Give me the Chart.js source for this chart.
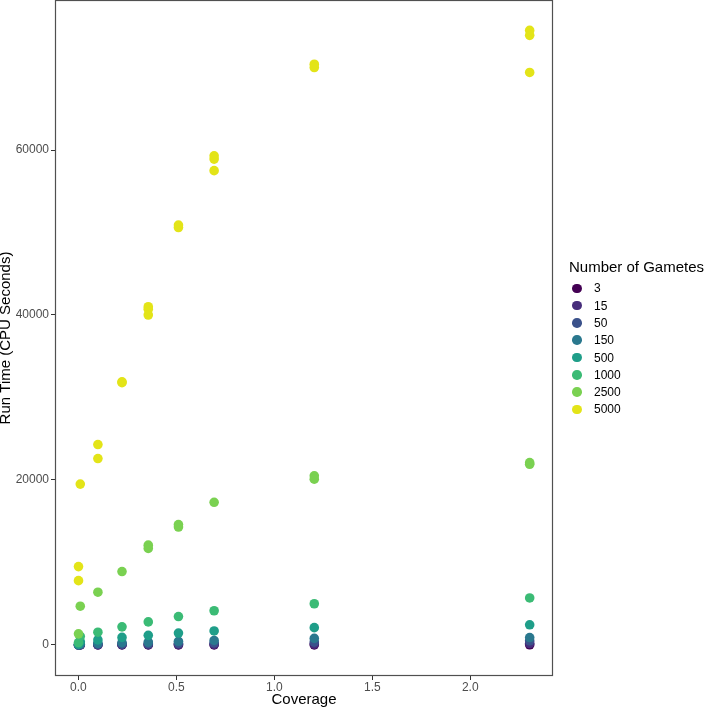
<!DOCTYPE html>
<html>
<head>
<meta charset="utf-8">
<script src="https://cdn.jsdelivr.net/npm/chart.js@4"></script>
<style>
html, body { margin: 0; padding: 0; background: #fff; }
#wrap { position: relative; width: 704px; height: 709px; font-family: "Liberation Sans", Arial, sans-serif; color: #000; }
#legend-title { position: absolute; left: 569px; top: 258px; font-size: 15px; line-height: 18px; white-space: nowrap; }
.item { position: absolute; left: 572px; height: 18px; display: flex; align-items: center; font-size: 12px; }
.dot { width: 9.6px; height: 9.6px; border-radius: 50%; margin-right: 12.4px; }
</style>
</head>
<body>
<div id="wrap">
  <canvas id="chart" width="704" height="709"></canvas>
  <div id="legend-title">Number of Gametes</div>
  <div id="legend"></div>
</div>
<script>
const gametes = ['3', '15', '50', '150', '500', '1000', '2500', '5000'];
const colours = ['#440154', '#472D7B', '#3B528B', '#2A788E', '#1F9E89', '#3BBB75', '#7AD151', '#E3E418'];

const coverage = [0.001, 0.01, 0.1, 0.223, 0.357, 0.511, 0.693, 1.204, 2.303];
const xTicks = [0, 0.5, 1, 1.5, 2];
const yTicks = [0, 20000, 40000, 60000];

// run times (CPU seconds), one list of replicates per coverage level
const run3 = [[1], [3], [5], [7], [9], [12], [15], [20], [30]];
const run15 = [[5], [15], [25], [35], [45], [60], [75], [110], [180]];
const run50 = [[10], [50], [80], [110], [150], [200], [250], [350], [500]];
const run150 = [[20], [120], [200], [280], [350], [450], [550], [800], [900]];
const run500 = [[100], [400], [620], [920], [1170], [1450], [1700], [2100], [2450]];
const run1000 = [[300], [1050], [1550], [2200], [2800], [3450], [4150], [5000], [5700]];
const run2500 = [[1350], [4700], [6400], [8900], [12100, 11700], [14600, 14300], [17300], [20500, 20100], [22100, 21900]];
const run5000 = [[9500, 7800], [19500], [24300, 22600], [31900, 31800], [41000, 40700, 40000], [50900, 50600], [59300, 58900, 57500], [70400, 70000], [74500, 73900, 69400]];

const runs = [run3, run15, run50, run150, run500, run1000, run2500, run5000];

const datasets = runs.map((r, g) => ({
  label: gametes[g],
  data: coverage.flatMap((c, i) => r[i].map(v => ({x: c, y: v}))),
  backgroundColor: colours[g],
  borderWidth: 0,
  pointRadius: 4.8,
  pointHoverRadius: 4.8,
  order: gametes.length - g
}));

const panelBorder = {
  id: 'panelBorder',
  afterDraw(chart) {
    const {ctx, chartArea: a} = chart;
    ctx.save();
    ctx.strokeStyle = '#505050';
    ctx.lineWidth = 1.2;
    ctx.strokeRect(a.left + 0.5, a.top + 0.5, a.right - a.left - 1, a.bottom - a.top - 1);
    ctx.restore();
  }
};

const font = {family: '"Liberation Sans", Arial, sans-serif'};

new Chart(document.getElementById('chart').getContext('2d'), {
  type: 'scatter',
  data: {datasets},
  options: {
    responsive: false,
    animation: false,
    layout: {autoPadding: false, padding: {left: 0, right: 151, top: 0, bottom: 0}},
    plugins: {legend: {display: false}, tooltip: {enabled: false}},
    scales: {
      x: {
        type: 'linear',
        min: -0.1189,
        max: 2.422,
        afterFit: s => { s.height = 33; s.paddingLeft = 0; s.paddingRight = 0; },
        afterBuildTicks: s => { s.ticks = xTicks.map(v => ({value: v})); },
        border: {display: false},
        grid: {drawOnChartArea: false, drawTicks: true, tickLength: 4, color: '#333'},
        ticks: {padding: 0, color: '#4d4d4d', font: {...font, size: 12}, callback: v => v.toFixed(1), maxRotation: 0},
        title: {display: true, text: 'Coverage', color: '#000', font: {...font, size: 15}, padding: {top: 0, bottom: 0}}
      },
      y: {
        type: 'linear',
        min: -3758,
        max: 78182,
        afterFit: s => { s.width = 55; s.paddingTop = 0; s.paddingBottom = 0; },
        afterBuildTicks: s => { s.ticks = yTicks.map(v => ({value: v})); },
        border: {display: false},
        grid: {drawOnChartArea: false, drawTicks: true, tickLength: 4, color: '#333'},
        ticks: {padding: 2, color: '#4d4d4d', font: {...font, size: 12}, callback: v => String(v)},
        title: {display: true, text: 'Run Time (CPU Seconds)', color: '#000', font: {...font, size: 15}, padding: {top: -3, bottom: 0}}
      }
    }
  },
  plugins: [panelBorder]
});

const legend = document.getElementById('legend');
gametes.forEach((g, i) => {
  const row = document.createElement('div');
  row.className = 'item';
  row.style.top = (288.3 - 9 + i * 17.3) + 'px';
  const dot = document.createElement('span');
  dot.className = 'dot';
  dot.style.background = colours[i];
  const txt = document.createElement('span');
  txt.textContent = g;
  row.appendChild(dot);
  row.appendChild(txt);
  legend.appendChild(row);
});
</script>
</body>
</html>
